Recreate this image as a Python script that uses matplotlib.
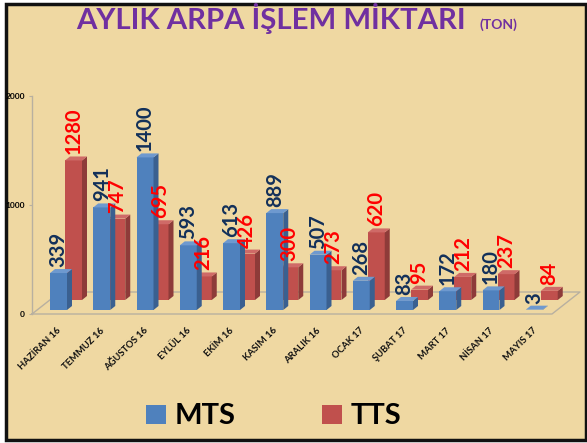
import matplotlib
matplotlib.use("Agg")
import matplotlib.pyplot as plt
from matplotlib.patches import Rectangle, Polygon

plt.rcParams['font.family'] = ['Lato', 'DejaVu Sans']

categories = ["HAZİRAN 16", "TEMMUZ 16", "AĞUSTOS 16", "EYLÜL 16", "EKİM 16", "KASIM 16",
              "ARALIK 16", "OCAK 17", "ŞUBAT 17", "MART 17", "NİSAN 17", "MAYIS 17"]
mts = [339, 941, 1400, 593, 613, 889, 507, 268, 83, 172, 180, 3]
tts = [1280, 747, 695, 216, 426, 300, 273, 620, 95, 212, 237, 84]
yticks = [0, 1000, 2000]
title = "AYLIK ARPA İŞLEM MİKTARI"
subtitle = "(TON)"
series_names = ["MTS", "TTS"]

W, H = 587, 443
fig = plt.figure(figsize=(W / 100, H / 100), dpi=100, facecolor="white")

def fx(px):
    return px / W

def fy(py):
    return 1 - py / H

# background panel with frame
bg = Rectangle((fx(6), fy(440)), fx(586) - fx(6), fy(4) - fy(440), transform=fig.transFigure,
               facecolor="#EFD8A2", edgecolor="#111111", linewidth=2.5, zorder=0)
fig.add_artist(bg)

# axes geometry (pixel based)
SX = 43.25      # px per category
SY = 0.109      # px per unit
X0 = 58.5       # px of first category (front bar centre)
Y0 = 314        # px of value 0 (front floor edge)
L, R, T, B = 0, 587, 40, 400
ax = fig.add_axes([fx(L), fy(B), fx(R) - fx(L), fy(T) - fy(B)])
ax.set_xlim((L - X0) / SX, (R - X0) / SX)
ax.set_ylim((Y0 - B) / SY, (Y0 - T) / SY)
ax.patch.set_alpha(0)
for s in ["top", "right", "bottom"]:
    ax.spines[s].set_visible(False)

def dxp(px):
    return px / SX

def dyp(px):
    return px / SY

# y axis
gray = "#B8B0A0"
ax.spines["left"].set_position(("data", (32 - X0) / SX))
ax.spines["left"].set_bounds(0, 2000)
ax.spines["left"].set_color(gray)
ax.spines["left"].set_linewidth(1)
ax.set_yticks(yticks)
ax.set_yticklabels([str(v) for v in yticks], fontsize=6, fontweight="bold", color="#000000")
ax.tick_params(axis="y", length=2, width=0.8, color=gray, pad=3)
ax.set_xticks([])

# floor
n = len(categories)
fl_x0 = (32 - X0) / SX
fl_x1 = (552 - X0) / SX
ax.plot([fl_x0, fl_x1, fl_x1 + dxp(28), fl_x0 + dxp(28), fl_x0],
        [0, 0, dyp(22), dyp(22), 0], color=gray, lw=1, zorder=1)

w = dxp(17)
ddx, ddy = dxp(5), dyp(4)

def bar3d(xc, val, base, front, side, top):
    ax.bar(xc, val, width=w, bottom=base, color=front, edgecolor="none", zorder=3)
    xr = xc + w / 2
    xl = xc - w / 2
    ax.add_patch(Polygon([(xr, base), (xr + ddx, base + ddy), (xr + ddx, base + val + ddy), (xr, base + val)],
                         closed=True, facecolor=side, edgecolor="none", zorder=3))
    ax.add_patch(Polygon([(xl, base + val), (xr, base + val), (xr + ddx, base + val + ddy), (xl + ddx, base + val + ddy)],
                         closed=True, facecolor=top, edgecolor="none", zorder=3))

tts_off = dxp(15)
tts_base = dyp(14)
mts_base = dyp(4)

for i in range(n):
    bar3d(i + tts_off, tts[i], tts_base, "#C0504D", "#8E3B39", "#CF6A67")
for i in range(n):
    bar3d(i, mts[i], mts_base, "#4F81BD", "#3A6090", "#6E99CF")

for i in range(n):
    ax.text(i + tts_off, tts_base + tts[i] + ddy + dyp(2), str(tts[i]), rotation=90,
            ha="center", va="bottom", fontsize=14.5, fontweight="bold", color="#FF0000", zorder=5)
for i in range(n):
    ax.text(i, mts_base + mts[i] + ddy + dyp(2), str(mts[i]), rotation=90,
            ha="center", va="bottom", fontsize=14.5, fontweight="bold", color="#12305A", zorder=6)

# category labels
for i, c in enumerate(categories):
    ax.text(i - dxp(2), -dyp(12), c, rotation=45, rotation_mode="anchor",
            ha="right", va="top", fontsize=6.8, fontweight="bold", color="#111111")

# title
fig.text(fx(76), fy(29), title, ha="left", va="baseline", fontsize=21.2,
         fontweight="bold", color="#7030A0")
fig.text(fx(480), fy(29), subtitle, ha="left", va="baseline", fontsize=10,
         fontweight="bold", color="#7030A0")

# legend
fig.add_artist(Rectangle((fx(146), fy(424)), fx(20), fy(405) - fy(424), transform=fig.transFigure,
                         facecolor="#4F81BD", edgecolor="none"))
fig.text(fx(175), fy(424), series_names[0], ha="left", va="baseline", fontsize=21,
         fontweight="bold", color="#000000")
fig.add_artist(Rectangle((fx(322), fy(424)), fx(20), fy(405) - fy(424), transform=fig.transFigure,
                         facecolor="#C0504D", edgecolor="none"))
fig.text(fx(351), fy(424), series_names[1], ha="left", va="baseline", fontsize=21,
         fontweight="bold", color="#000000")

fig.savefig("out.png", dpi=100, facecolor="white")
